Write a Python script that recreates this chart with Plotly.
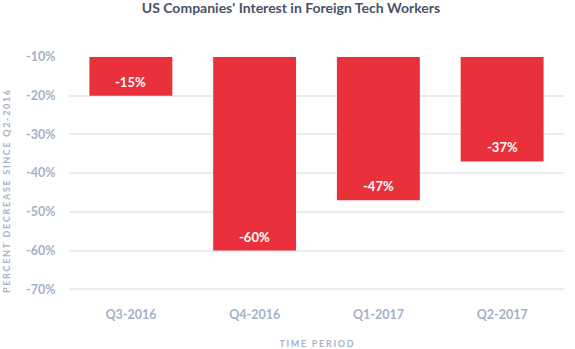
import plotly.graph_objects as go

categories = ["Q3-2016", "Q4-2016", "Q1-2017", "Q2-2017"]
values = [-20, -60, -47, -37]
labels = ["-15%", "-60%", "-47%", "-37%"]
tick_vals = [-10, -20, -30, -40, -50, -60, -70]
tick_text = ["-10%", "-20%", "-30%", "-40%", "-50%", "-60%", "-70%"]

def spaced(s, sep="\u2009"):
    return sep.join(list(s))

fig = go.Figure(go.Bar(
    x=categories, y=values,
    marker=dict(color="#E9303B", line=dict(width=0)),
))

for c, v, t in zip(categories, values, labels):
    fig.add_annotation(x=c, y=v, text=t, showarrow=False, yanchor="bottom",
                       yshift=4,
                       font=dict(color="white", size=13, family="Lato", weight="bold"))

# y-axis title as a rotated annotation
fig.add_annotation(xref="paper", yref="paper", x=-0.126, y=0.435,
                   xanchor="center", yanchor="middle", textangle=-90, showarrow=False,
                   text=spaced("PERCENT DECREASE SINCE Q2-2016", "\u200a\u200a\u200a"),
                   font=dict(size=9, color="#A7B3C5", family="Lato", weight="bold"))

fig.update_layout(
    width=575, height=349,
    margin=dict(l=69, r=11, t=57, b=54),
    paper_bgcolor="white", plot_bgcolor="white",
    bargap=0.33,
    showlegend=False,
    title=dict(text="US Companies' Interest in Foreign Tech Workers",
               x=0.506, xanchor="center", y=0.99, yanchor="top",
               font=dict(size=14, color="#4A5266", family="Lato", weight="bold")),
    font=dict(family="Lato"),
)
fig.update_yaxes(
    automargin=False,
    range=[-71.5, -10], tickvals=tick_vals, ticktext=tick_text,
    showgrid=True, gridcolor="#E8ECF5", gridwidth=1.5, zeroline=False,
    showline=False, ticks="outside", ticklen=10, tickcolor="rgba(0,0,0,0)",
    tickfont=dict(size=12.5, color="#A4B1C6", family="Lato", weight="bold"),
)
fig.update_xaxes(
    automargin=False,
    showgrid=False, showline=False, zeroline=False,
    ticks="outside", ticklen=8, tickcolor="rgba(0,0,0,0)",
    tickfont=dict(size=12.5, color="#A4B1C6", family="Lato", weight="bold"),
    title=dict(text=spaced("TIME PERIOD", "\u200a\u200a\u200a"),
               font=dict(size=9, color="#A7B3C5", family="Lato", weight="bold"),
               standoff=23),
)

fig.write_html("out.html")
